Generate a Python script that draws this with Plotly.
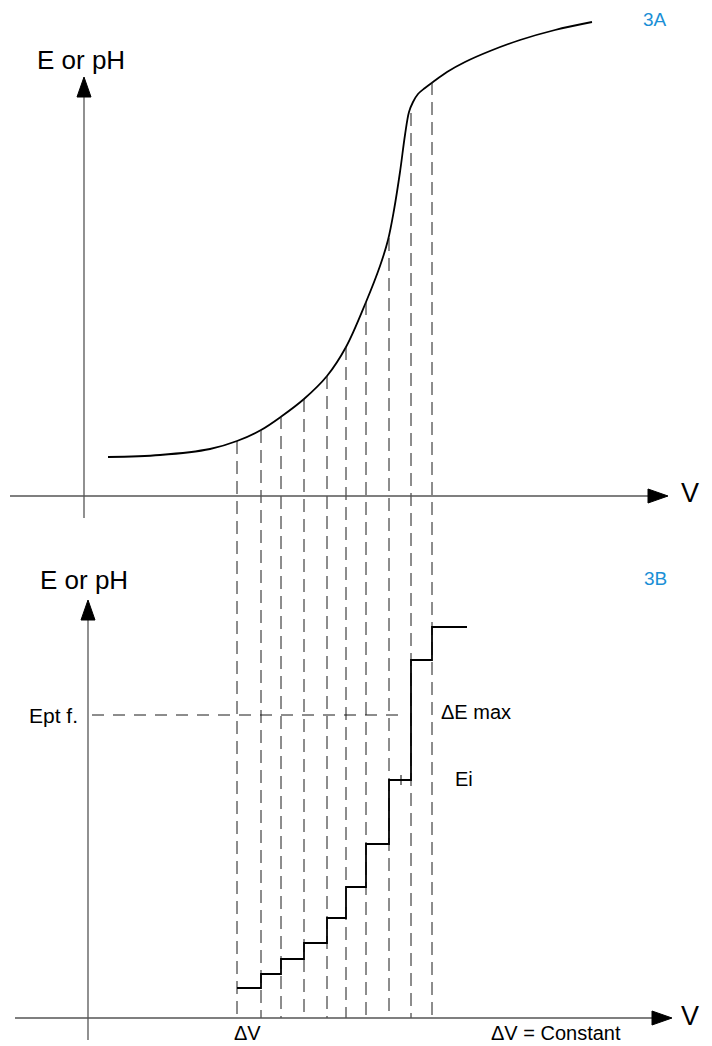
import plotly.graph_objects as go

# --- data (V measured from the E axis, E measured from each panel's V axis) ---
# 3A: titration curve
curve_v = [24, 76, 126, 153, 177, 198, 220, 243, 262, 282, 296, 304, 310,
           316, 321, 325, 329, 334, 341, 349, 363, 381, 406, 436, 471, 508]
curve_e = [39, 41, 47, 55, 66, 80, 97, 120, 149, 194, 230, 256, 286,
           324, 361, 384, 394, 402, 408, 414, 424, 434, 445, 456, 466, 474]

# constant volume increments (dashed guides) and where they meet the curve
dv_v = [153, 177, 197, 220, 243, 262, 282, 305, 327, 348]
dv_top_e = [55, 66, 80, 97, 120, 149, 194, 258, 383, 414]

# 3B: stepwise E readings
step_v = [153, 177, 197, 220, 243, 262, 282, 305, 327, 348, 383]
step_e = [30, 44, 59, 75, 100, 131, 174, 238, 358, 391, 391]

ept_e = 303            # Ept f. level
ept_v = [8, 318]
ei_tick_v = 317
ei_tick_e = [233, 243]

# --- layout helpers (pixel positions in the 712x1046 page) ---
PAGE_W, PAGE_H = 712, 1046
OFF = 8                        # default body margin of the html page
W, H = PAGE_W - OFF, PAGE_H - OFF
X0 = 84                        # V = 0
BASE_A, BASE_B = 496, 1018     # V axes of panel A and B
GAP = BASE_B - BASE_A


def px(x):
    return (x - OFF) / W


def py(y):
    return 1 - (y - OFF) / H


AXIS = "#555555"
DASH = "#1a1a1a"

fig = go.Figure()

# dashed guides, from the curve in 3A down to the V axis of 3B
gx, gy = [], []
for v, e in zip(dv_v, dv_top_e):
    gx += [v, v, None]
    gy += [e + GAP, 0, None]
fig.add_trace(go.Scatter(x=gx, y=gy, yaxis="y2", mode="lines",
                         line=dict(color=DASH, width=1, dash="13px,7px"),
                         hoverinfo="skip"))

# Ept f. dashed level
fig.add_trace(go.Scatter(x=ept_v, y=[ept_e, ept_e], yaxis="y2", mode="lines",
                         line=dict(color=DASH, width=1, dash="12px,9px"),
                         hoverinfo="skip"))

# titration curve
fig.add_trace(go.Scatter(x=curve_v, y=curve_e, mode="lines",
                         line=dict(color="black", width=1.8, shape="spline", smoothing=1.0),
                         hoverinfo="skip"))

# step curve
fig.add_trace(go.Scatter(x=step_v, y=step_e, yaxis="y2", mode="lines",
                         line=dict(color="black", width=1.8, shape="hv"),
                         hoverinfo="skip"))
fig.add_trace(go.Scatter(x=[ei_tick_v, ei_tick_v], y=ei_tick_e, yaxis="y2", mode="lines",
                         line=dict(color="black", width=1), hoverinfo="skip"))

# axes with arrow heads
shapes = []


def hline(y, x0, x1):
    shapes.append(dict(type="line", xref="paper", yref="paper",
                       x0=px(x0), x1=px(x1), y0=py(y), y1=py(y),
                       line=dict(color=AXIS, width=1.3)))
    tip, base = x1 + 20, x1
    shapes.append(dict(type="path", xref="paper", yref="paper",
                       path=f"M{px(base)},{py(y - 7)} L{px(tip)},{py(y)} L{px(base)},{py(y + 7)} Z",
                       fillcolor="black", line=dict(color="black", width=1)))


def vline(x, y0, y1):
    shapes.append(dict(type="line", xref="paper", yref="paper",
                       x0=px(x), x1=px(x), y0=py(y0), y1=py(y1),
                       line=dict(color=AXIS, width=1.3)))
    tip, base = y1 - 20, y1
    shapes.append(dict(type="path", xref="paper", yref="paper",
                       path=f"M{px(x - 7)},{py(base)} L{px(x)},{py(tip)} L{px(x + 7)},{py(base)} Z",
                       fillcolor="black", line=dict(color="black", width=1)))


hline(BASE_A, 10, 648)
vline(X0, 518, 97)
hline(BASE_B, 15, 652)
vline(88, 1040, 620)

FONT = "Liberation Sans, Arial, Helvetica, sans-serif"
annotations = []


def label(text, x, y, size=20, color="black"):
    annotations.append(dict(text=text, x=px(x), y=py(y), xref="paper", yref="paper",
                            showarrow=False, xanchor="center", yanchor="middle",
                            font=dict(family=FONT, size=size, color=color)))


label("E or pH", 81, 60, 26)
label("E or pH", 84, 580, 26)
label("3A", 655, 20, 19, "#1a8fd6")
label("3B", 655, 578, 19, "#1a8fd6")
label("V", 690, 493, 27)
label("V", 690, 1016, 27)
label("Ept f.", 53, 715, 21)
label("ΔE max", 476, 712, 20)
label("Ei", 464, 779, 20)
label("ΔV", 248, 1033, 20)
label("ΔV = Constant", 556, 1033, 20)

fig.update_layout(
    width=W, height=H,
    margin=dict(l=0, r=0, t=0, b=0),
    paper_bgcolor="white", plot_bgcolor="white",
    showlegend=False,
    xaxis=dict(range=[OFF - X0, PAGE_W - X0], visible=False, fixedrange=True),
    yaxis=dict(range=[BASE_A - PAGE_H, BASE_A - OFF], visible=False, fixedrange=True),
    yaxis2=dict(range=[BASE_B - PAGE_H, BASE_B - OFF], visible=False, fixedrange=True,
                overlaying="y"),
    shapes=shapes,
    annotations=annotations,
)

fig.write_html("out.html")
